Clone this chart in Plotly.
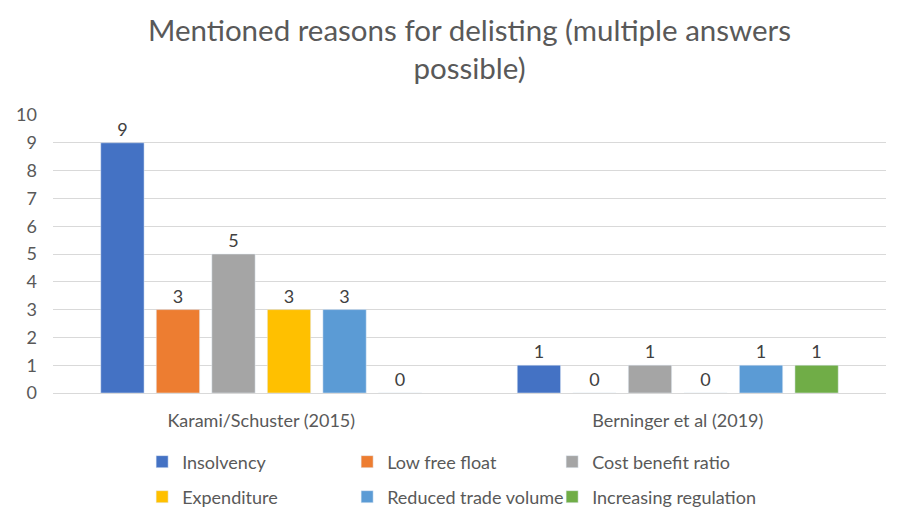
import plotly.graph_objects as go

# Data
studies = ["Karami/Schuster (2015)", "Berninger et al (2019)"]
reasons = ["Insolvency", "Low free float", "Cost benefit ratio",
           "Expenditure", "Reduced trade volume", "Increasing regulation"]
counts = {
    "Insolvency": [9, 1],
    "Low free float": [3, 0],
    "Cost benefit ratio": [5, 1],
    "Expenditure": [3, 0],
    "Reduced trade volume": [3, 1],
    "Increasing regulation": [0, 1],
}
y_ticks = list(range(0, 11))

# Office palette
colors = ['#4472C4', '#ED7D31', '#A5A5A5', '#FFC000', '#5B9BD5', '#70AD47']
FONT = "Lato"

fig = go.Figure()
for i, (name, col) in enumerate(zip(reasons, colors)):
    fig.add_trace(go.Bar(
        name=name,
        x=studies,
        y=counts[name],
        marker_color=col,
        text=counts[name],
        textposition='outside',
        textfont=dict(size=18, color='#404040', family=FONT),
        cliponaxis=False,
        legend='legend' if i < 3 else 'legend2',
    ))

# two single-row legends so the row spacing matches the Excel look
leg = dict(orientation='h', xanchor='left', yanchor='middle', x=0.107,
           entrywidth=160, entrywidthmode='pixels', itemwidth=30,
           font=dict(size=18, color='#595959', family=FONT),
           bgcolor='rgba(0,0,0,0)')

fig.update_layout(
    width=909, height=523,
    title=dict(text='Mentioned reasons for delisting (multiple answers<br>possible)',
               x=0.5, xanchor='center', xref='paper', y=0.937, yanchor='top',
               font=dict(size=29.5, color='#595959', family=FONT)),
    barmode='group',
    bargap=0.2,
    bargroupgap=0.22,
    plot_bgcolor='white',
    paper_bgcolor='white',
    margin=dict(l=45, r=31, t=107, b=138, autoexpand=False),
    font=dict(family=FONT, color='#595959', size=18),
    legend=dict(leg, y=-0.248),
    legend2=dict(leg, y=-0.374),
    showlegend=True,
)

fig.update_yaxes(range=[0, 10], tickvals=y_ticks, showgrid=True, gridcolor='#D9D9D9',
                 gridwidth=1, zeroline=False, showline=False, ticks='',
                 ticklabelstandoff=15, automargin=False,
                 tickfont=dict(size=18, color='#595959'))
fig.update_xaxes(showline=True, linecolor='#D9D9D9', linewidth=1, ticks='',
                 ticklabelstandoff=11, automargin=False,
                 tickfont=dict(size=18, color='#595959'))

fig.write_html("out.html")
